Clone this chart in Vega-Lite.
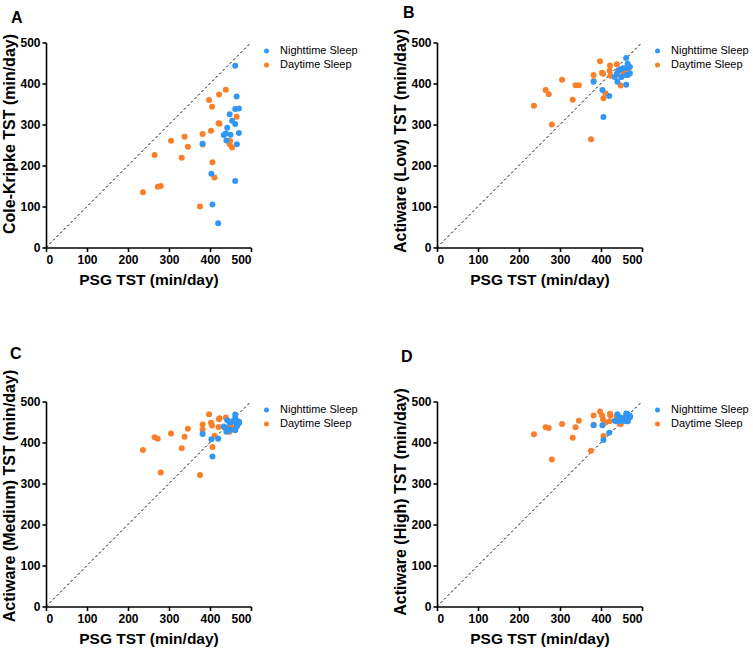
{
  "$schema": "https://vega.github.io/schema/vega-lite/v6.json",
  "padding": {"left": 1, "top": 4.5, "right": 5, "bottom": 5},
  "background": "white",
  "config": {
    "view": {"stroke": null},
    "font": "Liberation Sans",
    "axis": {
      "grid": false,
      "domainColor": "black",
      "domainWidth": 1.6,
      "tickColor": "black",
      "tickWidth": 1.6,
      "tickSize": 4,
      "labelFont": "Liberation Sans",
      "labelFontWeight": "bold",
      "labelFontSize": 12,
      "labelColor": "black",
      "labelPadding": 2,
      "titleFont": "Liberation Sans",
      "titleFontWeight": "bold",
      "titleColor": "black"
    },
    "axisX": {"titleFontSize": 15.5, "titlePadding": 7, "labelPadding": 3},
    "axisY": {"titleFontSize": 16, "titlePadding": 2},
    "legend": {
      "orient": "right",
      "offset": 7,
      "padding": 3,
      "labelFont": "Liberation Sans",
      "labelFontSize": 11,
      "labelColor": "black",
      "symbolSize": 25,
      "symbolType": "circle",
      "symbolStrokeWidth": 0,
      "rowPadding": 2,
      "labelOffset": 8
    },
    "title": {"font": "Liberation Sans", "fontWeight": "bold", "fontSize": 16, "color": "black", "anchor": "start", "frame": "group"}
  },
  "data": {
    "values": [
      {"group": "Daytime Sleep", "psg": 236.5, "ck": 135, "low": 346, "med": 382, "high": 420},
      {"group": "Daytime Sleep", "psg": 265, "ck": 225.5, "low": 384, "med": 413, "high": 437},
      {"group": "Daytime Sleep", "psg": 272.5, "ck": 148, "low": 374, "med": 409, "high": 435.5},
      {"group": "Daytime Sleep", "psg": 280, "ck": 150, "low": 300, "med": 326.6, "high": 358.7},
      {"group": "Daytime Sleep", "psg": 305, "ck": 260.6, "low": 409, "med": 422, "high": 445},
      {"group": "Daytime Sleep", "psg": 331, "ck": 219, "low": 360.6, "med": 386, "high": 411.8},
      {"group": "Daytime Sleep", "psg": 338, "ck": 270, "low": 396, "med": 414, "high": 437},
      {"group": "Daytime Sleep", "psg": 346, "ck": 246, "low": 396, "med": 433.5, "high": 453},
      {"group": "Daytime Sleep", "psg": 375.6, "ck": 99.7, "low": 264, "med": 321, "high": 380},
      {"group": "Daytime Sleep", "psg": 382, "ck": 277, "low": 421, "med": 444, "high": 465.7},
      {"group": "Daytime Sleep", "psg": 382, "ck": 251, "low": 406, "med": 431, "high": 443},
      {"group": "Daytime Sleep", "psg": 397.7, "ck": 359.5, "low": 454, "med": 469, "high": 475.5},
      {"group": "Daytime Sleep", "psg": 402.5, "ck": 285, "low": 426, "med": 448, "high": 465.7},
      {"group": "Daytime Sleep", "psg": 405, "ck": 343, "low": 424, "med": 441.6, "high": 456},
      {"group": "Daytime Sleep", "psg": 406, "ck": 208, "low": 364, "med": 389, "high": 416},
      {"group": "Daytime Sleep", "psg": 411, "ck": 171, "low": 376, "med": 416.5, "high": 449},
      {"group": "Daytime Sleep", "psg": 421, "ck": 303, "low": 432, "med": 437.6, "high": 452},
      {"group": "Daytime Sleep", "psg": 422, "ck": 373, "low": 444, "med": 457, "high": 470},
      {"group": "Daytime Sleep", "psg": 423, "ck": 302, "low": 419, "med": 459, "high": 466},
      {"group": "Daytime Sleep", "psg": 438.6, "ck": 385, "low": 447, "med": 461, "high": 463},
      {"group": "Daytime Sleep", "psg": 448, "ck": 252, "low": 395, "med": 426, "high": 444.4},
      {"group": "Daytime Sleep", "psg": 449, "ck": 260, "low": 416, "med": 440, "high": 450},
      {"group": "Daytime Sleep", "psg": 454, "ck": 244, "low": 427, "med": 437, "high": 455},
      {"group": "Daytime Sleep", "psg": 465, "ck": 319, "low": 430, "med": 450, "high": 460},
      {"group": "Nighttime Sleep", "psg": 382, "ck": 253, "low": 404, "med": 420.6, "high": 442},
      {"group": "Nighttime Sleep", "psg": 403.4, "ck": 180, "low": 384, "med": 408, "high": 442},
      {"group": "Nighttime Sleep", "psg": 406, "ck": 104.6, "low": 318, "med": 366, "high": 406},
      {"group": "Nighttime Sleep", "psg": 420, "ck": 59, "low": 369.5, "med": 409, "high": 424},
      {"group": "Nighttime Sleep", "psg": 433.6, "ck": 274.5, "low": 416, "med": 439, "high": 453},
      {"group": "Nighttime Sleep", "psg": 438.6, "ck": 278, "low": 424, "med": 434, "high": 451},
      {"group": "Nighttime Sleep", "psg": 440, "ck": 261, "low": 404, "med": 426, "high": 469},
      {"group": "Nighttime Sleep", "psg": 442, "ck": 292, "low": 432, "med": 454, "high": 455},
      {"group": "Nighttime Sleep", "psg": 448, "ck": 325, "low": 435, "med": 448, "high": 461},
      {"group": "Nighttime Sleep", "psg": 450, "ck": 275, "low": 416, "med": 431, "high": 452.6},
      {"group": "Nighttime Sleep", "psg": 454, "ck": 309, "low": 437, "med": 451.5, "high": 457},
      {"group": "Nighttime Sleep", "psg": 461.5, "ck": 443, "low": 462, "med": 468, "high": 471},
      {"group": "Nighttime Sleep", "psg": 461.5, "ck": 338, "low": 438, "med": 460, "high": 466},
      {"group": "Nighttime Sleep", "psg": 461.5, "ck": 301, "low": 397, "med": 451, "high": 460},
      {"group": "Nighttime Sleep", "psg": 461.5, "ck": 162, "low": 421, "med": 430, "high": 452},
      {"group": "Nighttime Sleep", "psg": 465, "ck": 368, "low": 448, "med": 445, "high": 469},
      {"group": "Nighttime Sleep", "psg": 465.6, "ck": 252, "low": 421, "med": 439, "high": 451.8},
      {"group": "Nighttime Sleep", "psg": 470.5, "ck": 339, "low": 440, "med": 451, "high": 461.6},
      {"group": "Nighttime Sleep", "psg": 470.5, "ck": 279, "low": 425, "med": 447, "high": 465}
    ]
  },
  "bounds": "flush",
  "spacing": 359,
  "resolve": {"scale": {"color": "independent"}, "legend": {"color": "independent"}},
  "vconcat": [
    {
      "bounds": "flush",
      "spacing": 186,
      "resolve": {"scale": {"color": "independent"}, "legend": {"color": "independent"}},
      "hconcat": [
        {
          "width": 205, "height": 205,
          "title": {"text": "A", "dx": -35, "offset": 7.2},
          "layer": [
            {
              "data": {"values": [{}]},
              "mark": {"type": "rule", "color": "black", "strokeWidth": 1, "strokeDash": [2.5, 2.5]},
              "encoding": {"x": {"datum": 0, "type": "quantitative"}, "y": {"datum": 0, "type": "quantitative"}, "x2": {"datum": 500}, "y2": {"datum": 500}}
            },
            {
              "mark": {"type": "circle", "size": 36, "opacity": 1},
              "encoding": {
                "x": {"field": "psg", "type": "quantitative", "scale": {"domain": [0, 500], "nice": false}, "axis": {"title": "PSG TST (min/day)", "values": [0, 100, 200, 300, 400, 500]}},
                "y": {"field": "ck", "type": "quantitative", "scale": {"domain": [0, 500], "nice": false}, "axis": {"title": "Cole-Kripke TST (min/day)", "values": [0, 100, 200, 300, 400, 500], "titleY": 91}},
                "color": {"field": "group", "type": "nominal", "scale": {"domain": ["Nighttime Sleep", "Daytime Sleep"], "range": ["#3196f4", "#fa7f2a"]}, "legend": {"title": null}}
              }
            }
          ]
        },
        {
          "width": 205, "height": 205,
          "title": {"text": "B", "dx": -34, "offset": 7.2},
          "layer": [
            {
              "data": {"values": [{}]},
              "mark": {"type": "rule", "color": "black", "strokeWidth": 1, "strokeDash": [2.5, 2.5]},
              "encoding": {"x": {"datum": 0, "type": "quantitative"}, "y": {"datum": 0, "type": "quantitative"}, "x2": {"datum": 500}, "y2": {"datum": 500}}
            },
            {
              "mark": {"type": "circle", "size": 36, "opacity": 1},
              "encoding": {
                "x": {"field": "psg", "type": "quantitative", "scale": {"domain": [0, 500], "nice": false}, "axis": {"title": "PSG TST (min/day)", "values": [0, 100, 200, 300, 400, 500]}},
                "y": {"field": "low", "type": "quantitative", "scale": {"domain": [0, 500], "nice": false}, "axis": {"title": "Actiware (Low) TST (min/day)", "values": [0, 100, 200, 300, 400, 500], "titleY": 98}},
                "color": {"field": "group", "type": "nominal", "scale": {"domain": ["Nighttime Sleep", "Daytime Sleep"], "range": ["#3196f4", "#fa7f2a"]}, "legend": {"title": null}}
              }
            }
          ]
        }
      ]
    },
    {
      "bounds": "flush",
      "spacing": 186,
      "resolve": {"scale": {"color": "independent"}, "legend": {"color": "independent"}},
      "hconcat": [
        {
          "width": 205, "height": 205,
          "title": {"text": "C", "dx": -36, "offset": 7},
          "layer": [
            {
              "data": {"values": [{}]},
              "mark": {"type": "rule", "color": "black", "strokeWidth": 1, "strokeDash": [2.5, 2.5]},
              "encoding": {"x": {"datum": 0, "type": "quantitative"}, "y": {"datum": 0, "type": "quantitative"}, "x2": {"datum": 500}, "y2": {"datum": 500}}
            },
            {
              "mark": {"type": "circle", "size": 36, "opacity": 1},
              "encoding": {
                "x": {"field": "psg", "type": "quantitative", "scale": {"domain": [0, 500], "nice": false}, "axis": {"title": "PSG TST (min/day)", "values": [0, 100, 200, 300, 400, 500]}},
                "y": {"field": "med", "type": "quantitative", "scale": {"domain": [0, 500], "nice": false}, "axis": {"title": "Actiware (Medium) TST (min/day)", "values": [0, 100, 200, 300, 400, 500], "titleY": 94}},
                "color": {"field": "group", "type": "nominal", "scale": {"domain": ["Nighttime Sleep", "Daytime Sleep"], "range": ["#3196f4", "#fa7f2a"]}, "legend": {"title": null}}
              }
            }
          ]
        },
        {
          "width": 205, "height": 205,
          "title": {"text": "D", "dx": -36, "offset": 23},
          "layer": [
            {
              "data": {"values": [{}]},
              "mark": {"type": "rule", "color": "black", "strokeWidth": 1, "strokeDash": [2.5, 2.5]},
              "encoding": {"x": {"datum": 0, "type": "quantitative"}, "y": {"datum": 0, "type": "quantitative"}, "x2": {"datum": 500}, "y2": {"datum": 500}}
            },
            {
              "mark": {"type": "circle", "size": 36, "opacity": 1},
              "encoding": {
                "x": {"field": "psg", "type": "quantitative", "scale": {"domain": [0, 500], "nice": false}, "axis": {"title": "PSG TST (min/day)", "values": [0, 100, 200, 300, 400, 500]}},
                "y": {"field": "high", "type": "quantitative", "scale": {"domain": [0, 500], "nice": false}, "axis": {"title": "Actiware (High) TST (min/day)", "values": [0, 100, 200, 300, 400, 500], "titleY": 100}},
                "color": {"field": "group", "type": "nominal", "scale": {"domain": ["Nighttime Sleep", "Daytime Sleep"], "range": ["#3196f4", "#fa7f2a"]}, "legend": {"title": null}}
              }
            }
          ]
        }
      ]
    }
  ]
}
